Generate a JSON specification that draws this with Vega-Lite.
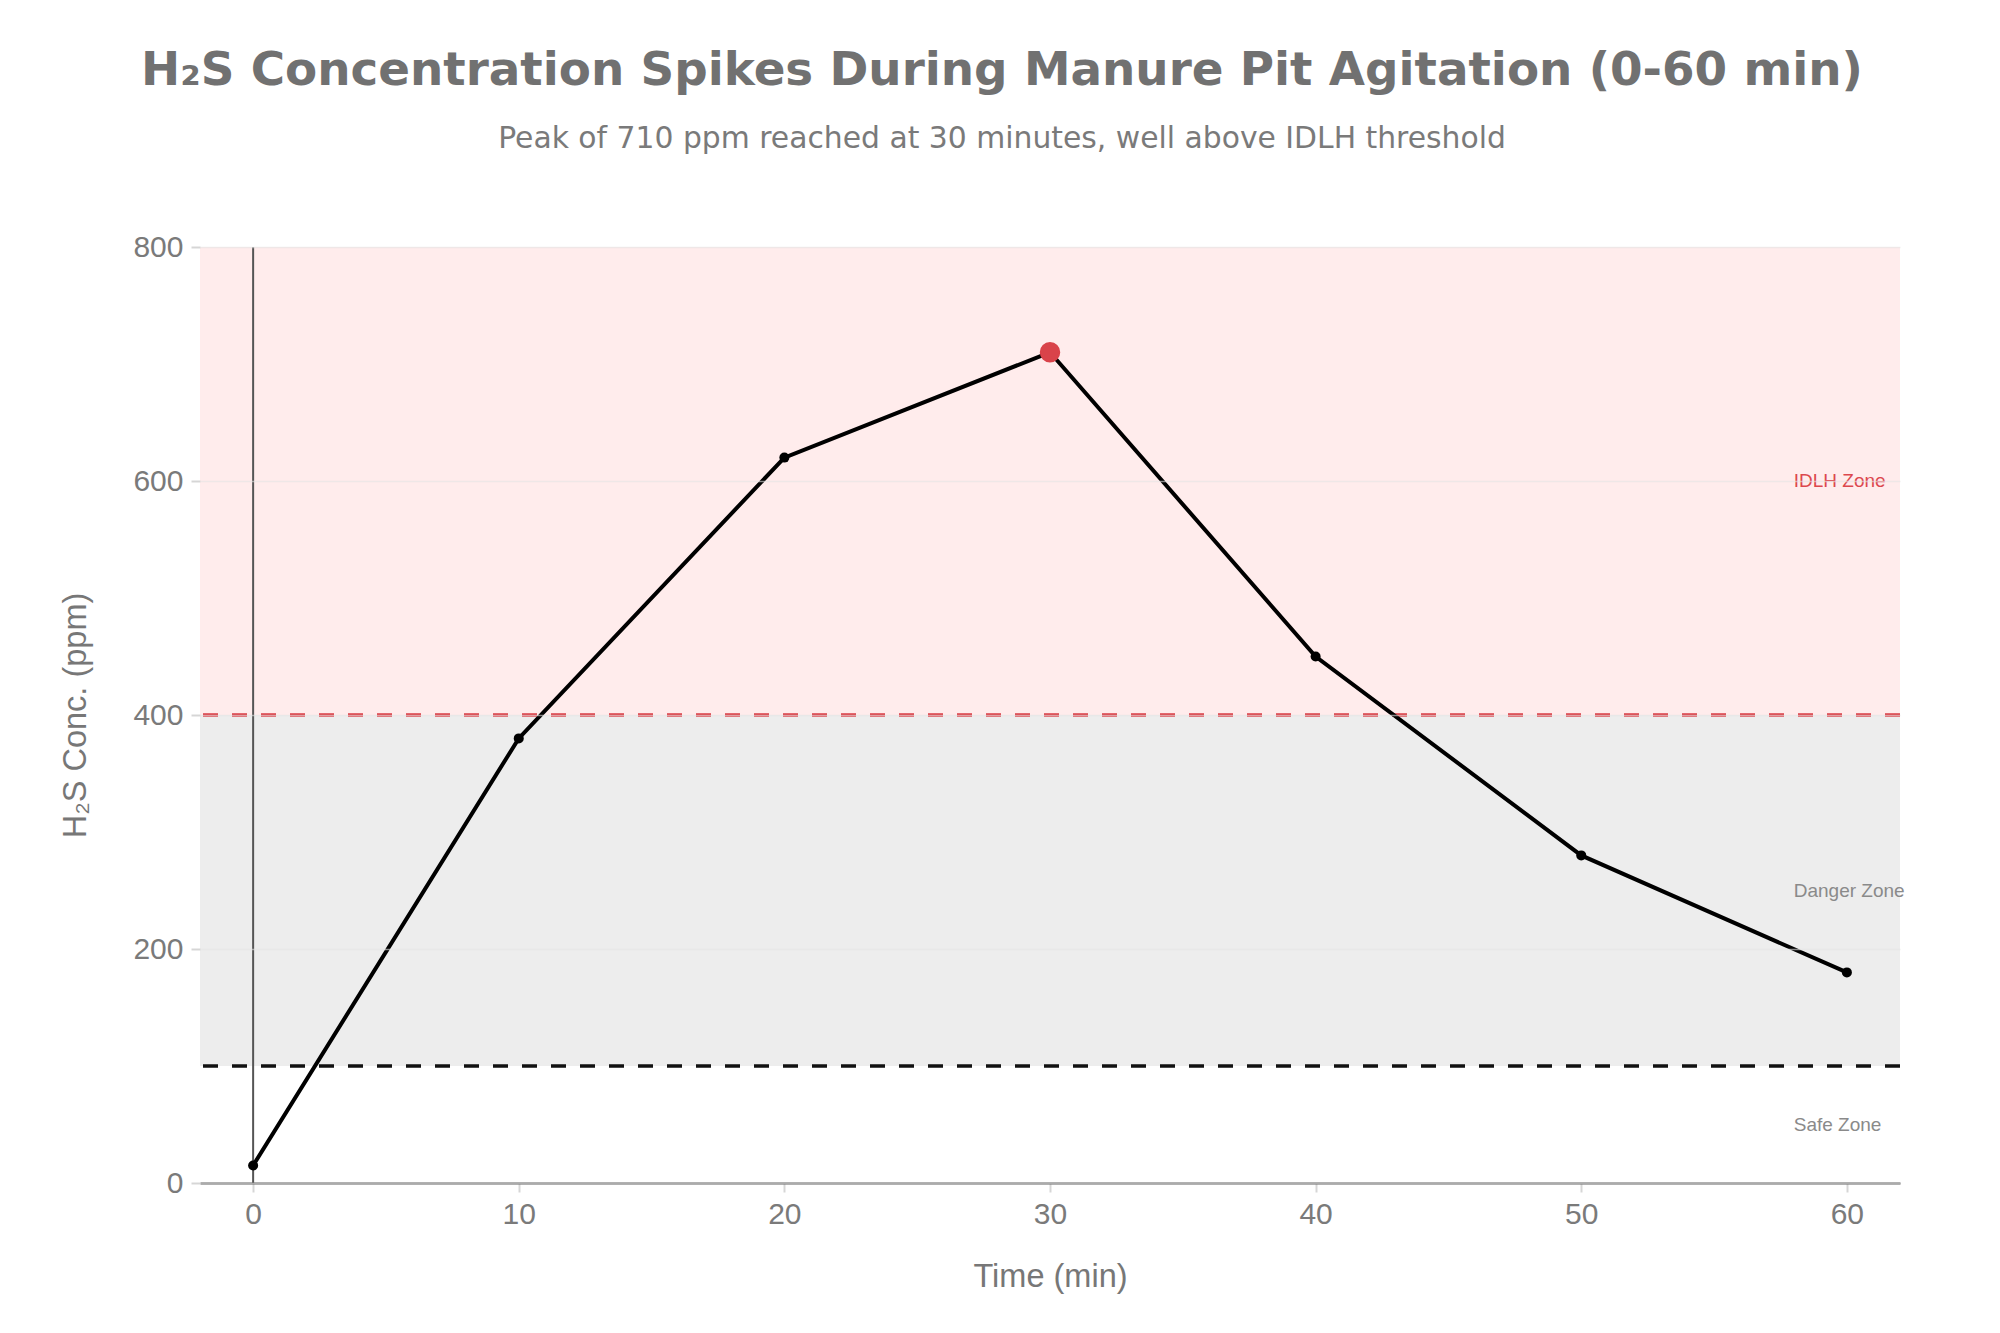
{
  "$schema": "https://vega.github.io/schema/vega-lite/v6.json",
  "width": 1700,
  "height": 936,
  "autosize": "none",
  "padding": {"left": 200, "top": 247, "right": 100, "bottom": 150},
  "background": "white",
  "title": {
    "text": "H₂S Concentration Spikes During Manure Pit Agitation (0-60 min)",
    "subtitle": "Peak of 710 ppm reached at 30 minutes, well above IDLH threshold",
    "anchor": "middle",
    "frame": "group",
    "dx": -48,
    "offset": 78,
    "font": "DejaVu Sans",
    "fontSize": 46.8,
    "fontWeight": "bold",
    "color": "#717171",
    "subtitleFont": "DejaVu Sans",
    "subtitleFontSize": 29.8,
    "subtitleColor": "#7a7a7a",
    "subtitlePadding": 29
  },
  "datasets": {
    "bands": [
      {"zone": "IDLH", "low": 400, "high": 800, "xs": -2, "xe": 62},
      {"zone": "Danger", "low": 100, "high": 400, "xs": -2, "xe": 62}
    ],
    "thresholds": [
      {"name": "IDLH", "ppm": 400},
      {"name": "Danger", "ppm": 100}
    ],
    "series": [
      {"time": 0, "ppm": 15},
      {"time": 10, "ppm": 380},
      {"time": 20, "ppm": 620},
      {"time": 30, "ppm": 710},
      {"time": 40, "ppm": 450},
      {"time": 50, "ppm": 280},
      {"time": 60, "ppm": 180}
    ],
    "labels": [
      {"label": "IDLH Zone", "time": 58, "ppm": 600, "kind": "IDLH"},
      {"label": "Danger Zone", "time": 58, "ppm": 250, "kind": "Danger"},
      {"label": "Safe Zone", "time": 58, "ppm": 50, "kind": "Safe"}
    ]
  },
  "config": {
    "view": {"stroke": null},
    "axis": {
      "labelFont": "Liberation Sans",
      "titleFont": "Liberation Sans",
      "labelColor": "#7a7a7a",
      "titleColor": "#777777",
      "labelFontSize": 30,
      "titleFontSize": 32.5,
      "titleFontWeight": "normal",
      "tickColor": "#d6d6d6",
      "tickWidth": 2,
      "tickSize": 9
    }
  },
  "resolve": {"scale": {"color": "independent"}},
  "layer": [
    {
      "data": {"name": "bands"},
      "mark": {"type": "rect"},
      "encoding": {
        "x": {"field": "xs", "type": "quantitative", "scale": {"domain": [-2, 62], "nice": false, "zero": false},
          "axis": {"title": "Time (min)", "values": [0, 10, 20, 30, 40, 50, 60], "grid": false, "domain": true, "domainColor": "#555555", "domainWidth": 2.2, "labelPadding": 7, "titlePadding": 31}},
        "x2": {"field": "xe"},
        "y": {"field": "low", "type": "quantitative", "scale": {"domain": [0, 800], "nice": false},
          "axis": {"title": "H₂S Conc. (ppm)", "values": [0, 200, 400, 600, 800], "grid": true, "gridColor": "#e4e4e4", "gridOpacity": 0.6, "gridWidth": 1.5, "domain": false, "labelPadding": 8, "titlePadding": 40, "zindex": 1}},
        "y2": {"field": "high"},
        "color": {"field": "zone", "type": "nominal", "scale": {"domain": ["IDLH", "Danger"], "range": ["#ffecec", "#ededed"]}, "legend": null}
      }
    },
    {
      "data": {"name": "thresholds"},
      "mark": {"type": "rule", "strokeDash": [15, 14], "strokeWidth": 3.5},
      "encoding": {
        "y": {"field": "ppm", "type": "quantitative"},
        "color": {"field": "name", "type": "nominal", "scale": {"domain": ["IDLH", "Danger"], "range": ["#d93c44", "#111111"]}, "legend": null}
      }
    },
    {
      "data": {"name": "series"},
      "transform": [{"filter": "datum.time == 0"}],
      "mark": {"type": "rule", "color": "#555555", "strokeWidth": 2},
      "encoding": {"x": {"field": "time", "type": "quantitative"}}
    },
    {
      "data": {"name": "series"},
      "mark": {"type": "line", "color": "#000000", "strokeWidth": 4},
      "encoding": {
        "x": {"field": "time", "type": "quantitative"},
        "y": {"field": "ppm", "type": "quantitative"}
      }
    },
    {
      "data": {"name": "series"},
      "mark": {"type": "circle", "color": "#000000", "opacity": 1, "size": 100},
      "encoding": {
        "x": {"field": "time", "type": "quantitative"},
        "y": {"field": "ppm", "type": "quantitative"}
      }
    },
    {
      "data": {"name": "series"},
      "transform": [{"filter": "datum.time == 30"}],
      "mark": {"type": "circle", "color": "#d9434a", "opacity": 1, "size": 420},
      "encoding": {
        "x": {"field": "time", "type": "quantitative"},
        "y": {"field": "ppm", "type": "quantitative"}
      }
    },
    {
      "data": {"name": "labels"},
      "mark": {"type": "text", "align": "left", "baseline": "middle", "font": "Liberation Sans", "fontSize": 19},
      "encoding": {
        "x": {"field": "time", "type": "quantitative"},
        "y": {"field": "ppm", "type": "quantitative"},
        "text": {"field": "label"},
        "color": {"field": "kind", "type": "nominal", "scale": {"domain": ["IDLH", "Danger", "Safe"], "range": ["#dc474d", "#8a8a8a", "#8a8a8a"]}, "legend": null}
      }
    }
  ]
}
